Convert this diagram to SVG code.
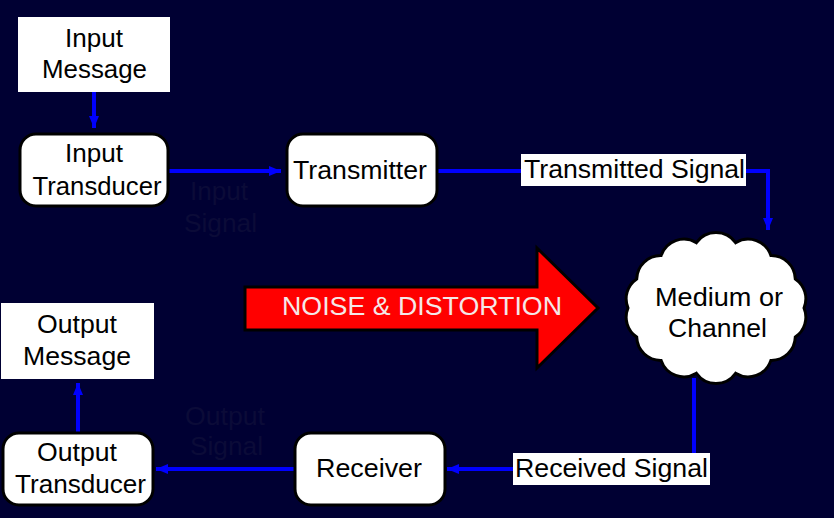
<svg xmlns="http://www.w3.org/2000/svg" width="834" height="518" viewBox="0 0 834 518">
<defs>
<marker id="ah" markerUnits="userSpaceOnUse" markerWidth="14" markerHeight="12" refX="12" refY="6" orient="auto">
<path d="M0,1 L12,6 L0,11 z" fill="#0000ff"/>
</marker>
<style>
text{font-family:"Liberation Sans",Arial,sans-serif;font-size:25px;fill:#000;text-anchor:middle}
.box{fill:#fff;stroke:#000;stroke-width:3}
.sq{fill:#fff}
.dim{fill:#0b0b38}
.conn{fill:none;stroke:#0000ff;stroke-width:4}
</style>
</defs>
<rect width="834" height="518" fill="#000033"/>
<g id="connectors">
<path class="conn" d="M94,92 V128" marker-end="url(#ah)"/>
<path class="conn" d="M168,171 H281" marker-end="url(#ah)"/>
<path class="conn" d="M437,171 H522"/>
<path class="conn" d="M745,171 H768 V230" marker-end="url(#ah)"/>
<path class="conn" d="M694,378 V453"/>
<path class="conn" d="M513,469 H447" marker-end="url(#ah)"/>
<path class="conn" d="M295,469 H156" marker-end="url(#ah)"/>
<path class="conn" d="M78,432 V383" marker-end="url(#ah)"/>
</g>
<g id="input-message">
<rect class="sq" x="18" y="17" width="152" height="75"/>
<text x="94" y="47" textLength="58" lengthAdjust="spacingAndGlyphs">Input</text>
<text x="94.5" y="78" textLength="105" lengthAdjust="spacingAndGlyphs">Message</text>
</g>
<g id="input-transducer">
<rect class="box" x="20" y="134" width="148" height="72" rx="16"/>
<text x="94" y="162" textLength="58" lengthAdjust="spacingAndGlyphs">Input</text>
<text x="97" y="195" textLength="129" lengthAdjust="spacingAndGlyphs">Transducer</text>
</g>
<g id="input-signal">
<text class="dim" x="219" y="200" textLength="58" lengthAdjust="spacingAndGlyphs">Input</text>
<text class="dim" x="220.5" y="232" textLength="73" lengthAdjust="spacingAndGlyphs">Signal</text>
</g>
<g id="transmitter">
<rect class="box" x="287" y="134" width="150" height="72" rx="16"/>
<text x="360" y="179" textLength="134" lengthAdjust="spacingAndGlyphs">Transmitter</text>
</g>
<g id="transmitted-signal">
<rect class="sq" x="521" y="154" width="225" height="32"/>
<text x="634.5" y="178" textLength="221" lengthAdjust="spacingAndGlyphs">Transmitted Signal</text>
</g>
<g id="medium">
<path class="box" d="M804,308 A24,24 0 0 1 795.3,337.1 A24,24 0 0 1 770.9,360.4 A24,24 0 0 1 735.6,373.3 A24,24 0 0 1 696.4,373.3 A24,24 0 0 1 661.1,360.4 A24,24 0 0 1 636.7,337.1 A24,24 0 0 1 628,308 A24,24 0 0 1 636.7,278.9 A24,24 0 0 1 661.1,255.6 A24,24 0 0 1 696.4,242.7 A24,24 0 0 1 735.6,242.7 A24,24 0 0 1 770.9,255.6 A24,24 0 0 1 795.3,278.9 A24,24 0 0 1 804,308 z"/>
<text x="719" y="306" textLength="128" lengthAdjust="spacingAndGlyphs">Medium or</text>
<text x="717.5" y="337" textLength="99" lengthAdjust="spacingAndGlyphs">Channel</text>
</g>
<g id="noise">
<polygon points="245,287 537,287 537,248 598,308 537,368 537,330 245,330" fill="#ff0000" stroke="#000" stroke-width="3"/>
<text x="422" y="315" textLength="280" lengthAdjust="spacingAndGlyphs" style="fill:#f4e8e8">NOISE &amp; DISTORTION</text>
</g>
<g id="received-signal">
<rect class="sq" x="513" y="453" width="197" height="32"/>
<text x="611.5" y="477" textLength="193" lengthAdjust="spacingAndGlyphs">Received Signal</text>
</g>
<g id="receiver">
<rect class="box" x="295" y="433" width="150" height="72" rx="16"/>
<text x="369" y="477" textLength="106" lengthAdjust="spacingAndGlyphs">Receiver</text>
</g>
<g id="output-signal">
<text class="dim" x="225" y="425" textLength="80" lengthAdjust="spacingAndGlyphs">Output</text>
<text class="dim" x="226.5" y="455" textLength="73" lengthAdjust="spacingAndGlyphs">Signal</text>
</g>
<g id="output-transducer">
<rect class="box" x="3" y="433" width="150" height="72" rx="16"/>
<text x="77" y="461" textLength="80" lengthAdjust="spacingAndGlyphs">Output</text>
<text x="80.5" y="493" textLength="131" lengthAdjust="spacingAndGlyphs">Transducer</text>
</g>
<g id="output-message">
<rect class="sq" x="1" y="303" width="153" height="76"/>
<text x="77" y="333" textLength="80" lengthAdjust="spacingAndGlyphs">Output</text>
<text x="77" y="365" textLength="108" lengthAdjust="spacingAndGlyphs">Message</text>
</g>
</svg>
